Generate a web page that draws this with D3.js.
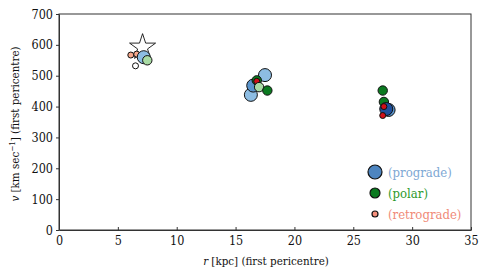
<!DOCTYPE html>
<html><head><meta charset="utf-8">
<script src="https://cdn.jsdelivr.net/npm/d3@7"></script>
<style>body{margin:0;background:#fff} text{font-family:"DejaVu Serif",serif;font-stretch:condensed}</style>
</head><body><svg id="c" width="485" height="277"></svg>
<script>
// data
const xTicks = [0,5,10,15,20,25,30,35];
const yTicks = [0,100,200,300,400,500,600,700];
const starR = [7.1], starV = [592];
// point order = drawing order
const ptR     = [6.1, 6.6, 6.5, 7.2, 7.5, 17.5, 16.3, 16.5, 16.8, 16.8, 17.0, 17.7, 27.5, 27.6, 28.0, 27.8, 27.6, 27.5];
const ptV     = [567, 570, 532, 560, 550, 502, 438, 468, 485, 482, 463, 452, 452, 415, 389, 392, 400, 371];
const ptType  = ["retro","retro","retro","pro","polar","pro","pro","pro","polar","retro","polar","polar","polar","polar","pro","pro","retro","retro"];
const ptShade = ["light","light","white","light","light","light","light","mid","dark","dark","light","dark","dark","dark","mid","dark","dark","dark"];
const legendLabels = ["(prograde)","(polar)","(retrograde)"];
const legendTypes = ["pro","polar","retro"];

const colors = {
  pro:   {light:"#8dbde3", mid:"#5a94cc", dark:"#1f4f9c", legend:"#4d85c0", text:"#7ea8d4"},
  polar: {light:"#a9dba4", mid:"#4caf50", dark:"#0b7a20", legend:"#0b7a20", text:"#2e9a2e"},
  retro: {light:"#f6a88c", white:"#ffffff", dark:"#d0101a", legend:"#f6907c", text:"#f08a78"}
};
const radius = {pro:6.5, polar:4.7, retro:3};
const legendRadius = {pro:7, polar:5, retro:3};

const svg = d3.select("#c");
const font = '"DejaVu Serif",serif';
const x = d3.scaleLinear().domain([0,35]).range([59,471]);
const y = d3.scaleLinear().domain([0,700]).range([230,14]);

svg.append("rect").attr("x",59).attr("y",14).attr("width",412).attr("height",216)
  .attr("fill","none").attr("stroke","#333").attr("stroke-width",1);

const xa = svg.append("g").attr("transform","translate(0,230)")
  .call(d3.axisBottom(x).tickValues(xTicks).tickSizeInner(-3).tickSizeOuter(0).tickPadding(5));
const ya = svg.append("g").attr("transform","translate(59,0)")
  .call(d3.axisLeft(y).tickValues(yTicks).tickSizeInner(3).tickSizeOuter(0).tickPadding(3));
[xa,ya].forEach(a=>{
  a.attr("font-family",null);
  a.select(".domain").attr("stroke","#333");
  a.selectAll("line").attr("stroke","#333");
  a.selectAll("text").style("font-family",font).style("font-size","12.5px").attr("fill","#111");
});
xa.selectAll("text").attr("dy","0.8em");

svg.append("text").attr("x",266).attr("y",265).attr("text-anchor","middle")
  .style("font-family",font).style("font-size","11.5px").attr("fill","#111")
  .html('<tspan font-style="italic">r</tspan> [kpc] (first pericentre)');
svg.append("text").attr("transform","translate(19,124) rotate(-90)").attr("text-anchor","middle")
  .style("font-family",font).style("font-size","11.5px").attr("fill","#111")
  .html('<tspan font-style="italic">v</tspan> [km sec<tspan dy="-4" font-size="8">−1</tspan><tspan dy="4">] (first pericentre)</tspan>');

const star = d3.symbol().type(d3.symbolStar).size(210);
svg.selectAll(".star").data(starR).enter().append("path")
  .attr("d",star).attr("transform",(d,i)=>`translate(${x(d)},${y(starV[i])})`)
  .attr("fill","#fff").attr("stroke","#111").attr("stroke-width",0.9);

const pts = ptR.map((r,i)=>({r, v:ptV[i], t:ptType[i], s:ptShade[i]}));
svg.selectAll(".pt").data(pts).enter().append("circle")
  .attr("cx",d=>x(d.r)).attr("cy",d=>y(d.v)).attr("r",d=>radius[d.t])
  .attr("fill",d=>colors[d.t][d.s]).attr("stroke","#111").attr("stroke-width",1);

const lg = svg.append("g");
legendTypes.forEach((t,i)=>{
  const yy = 172 + i*21;
  lg.append("circle").attr("cx",375).attr("cy",yy).attr("r",legendRadius[t])
    .attr("fill",colors[t].legend).attr("stroke","#111").attr("stroke-width",1.2);
  lg.append("text").attr("x",388).attr("y",yy).attr("dy","0.35em")
    .style("font-family",font).style("font-size","13px").attr("fill",colors[t].text).text(legendLabels[i]);
});
</script></body></html>
